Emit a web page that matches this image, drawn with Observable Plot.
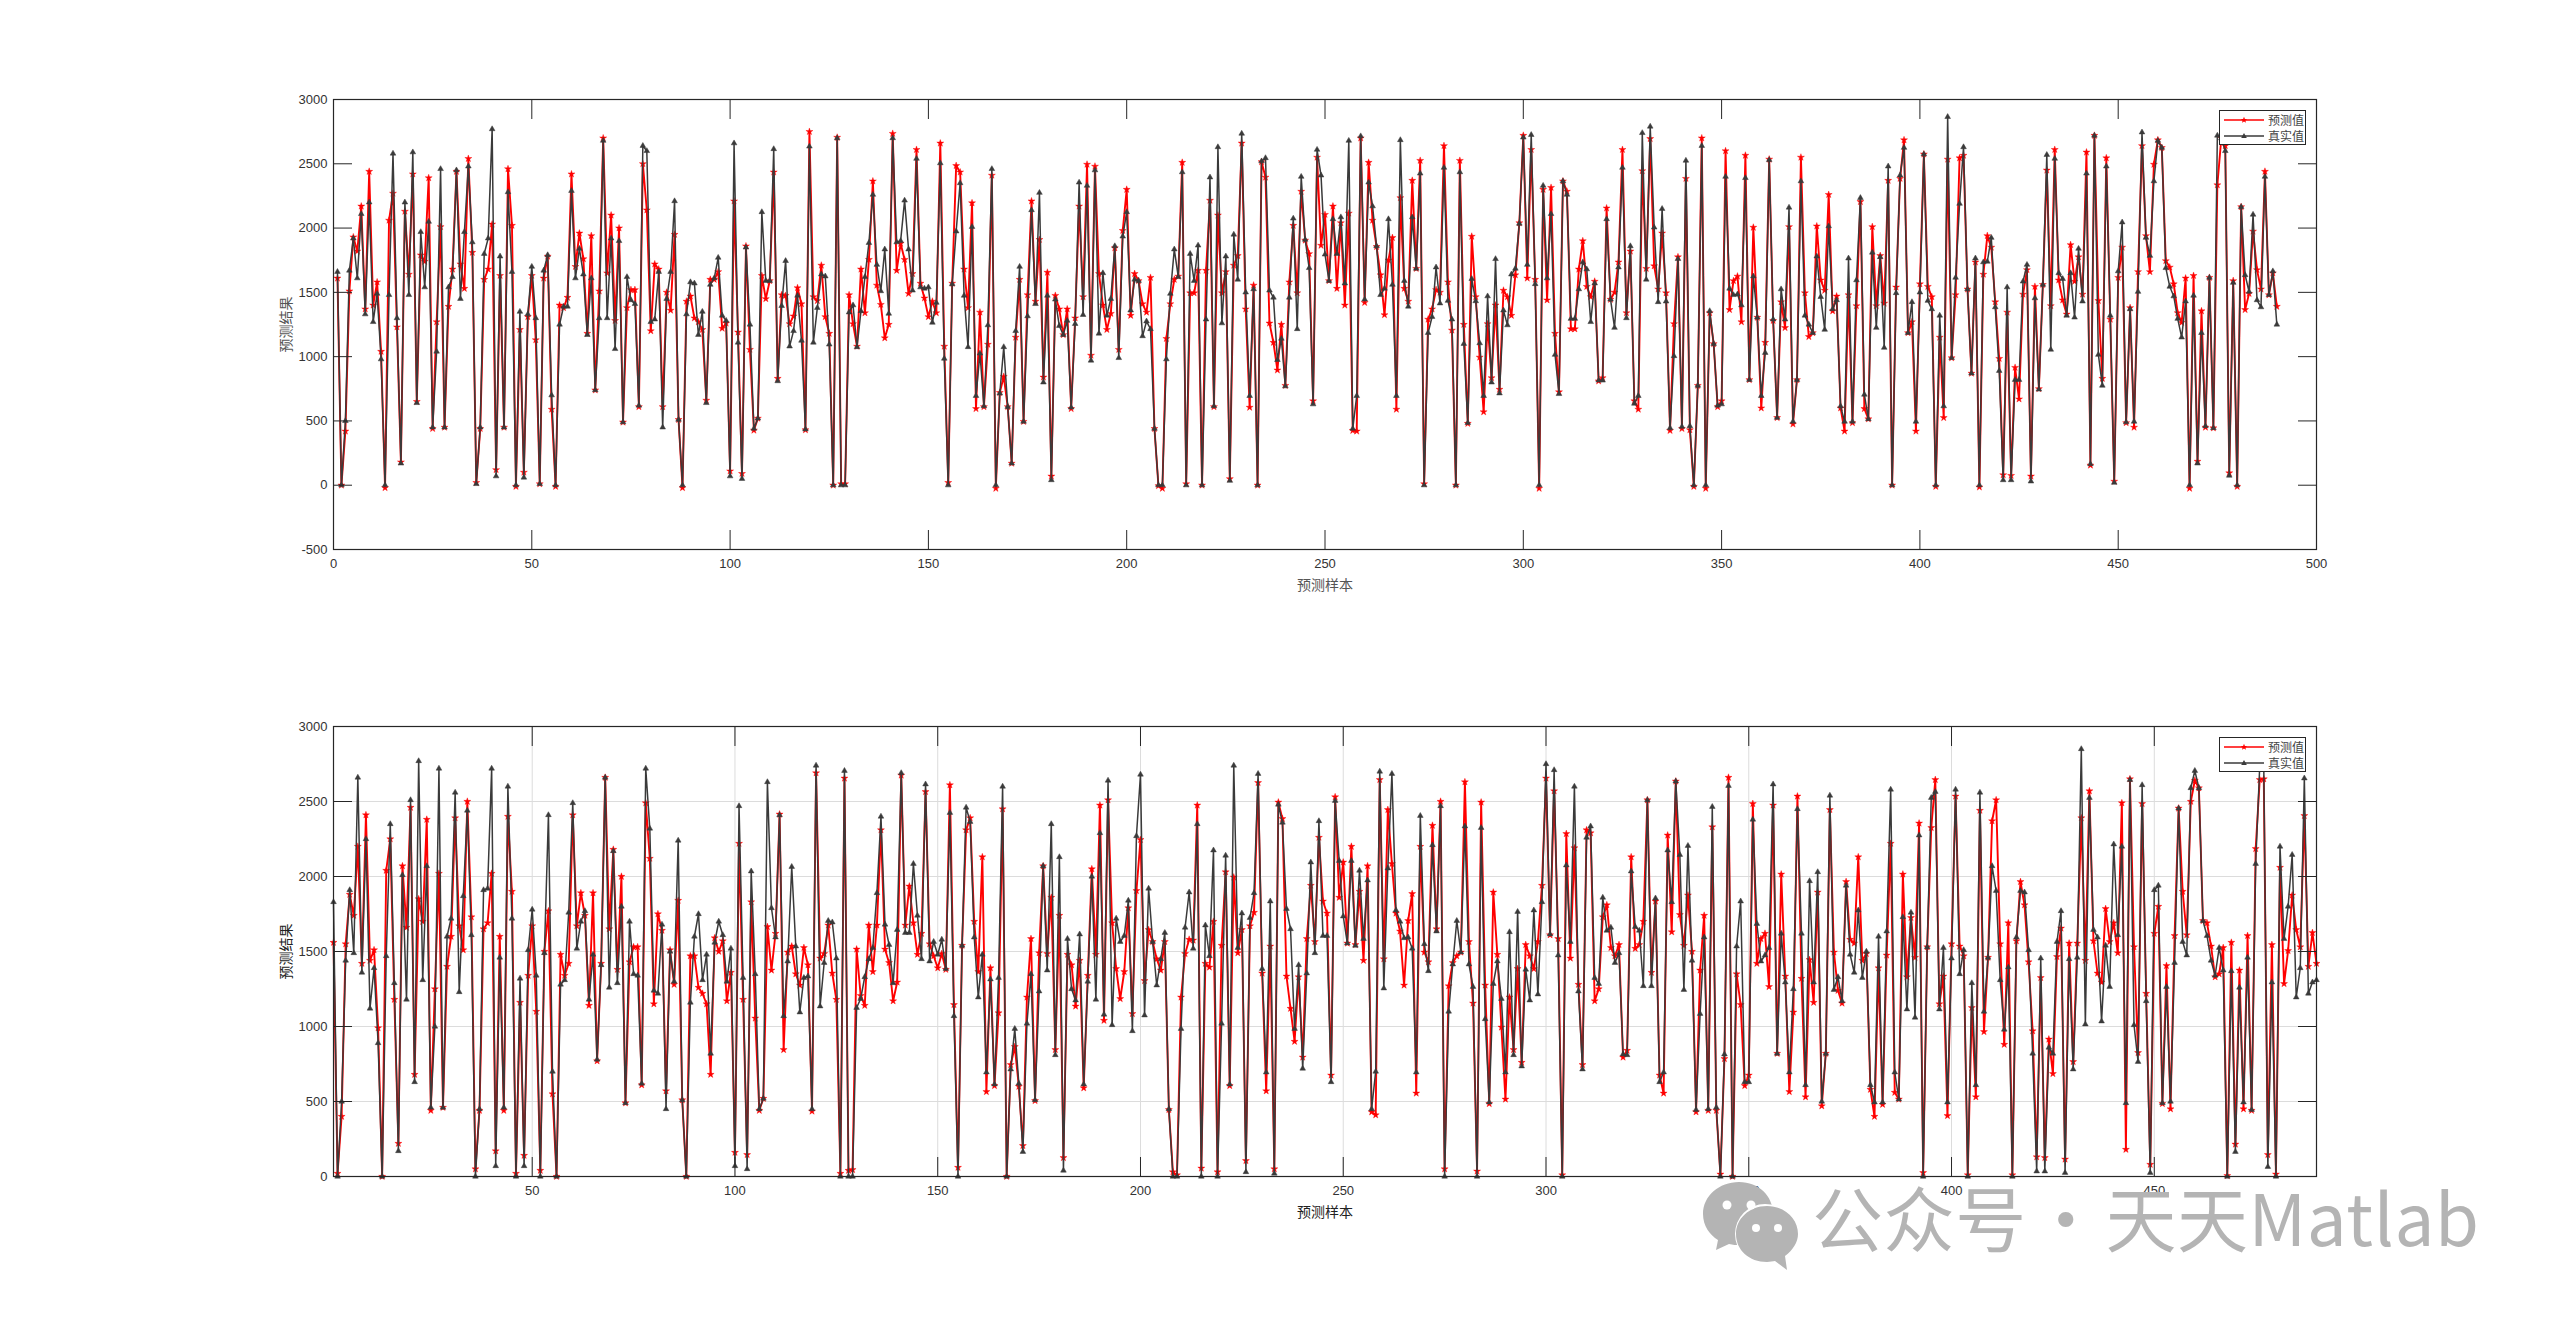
<!DOCTYPE html>
<html lang="zh"><head><meta charset="utf-8">
<script src="https://cdn.jsdelivr.net/npm/d3@7"></script>
<script src="https://cdn.jsdelivr.net/npm/@observablehq/plot@0.6"></script>
<style>
html,body{margin:0;background:#fff;overflow:hidden}
#page{position:relative;width:2560px;height:1322px;background:#fff;overflow:hidden}
.legend{position:absolute;background:#fff;border:1px solid #262626;box-sizing:border-box;width:87px;height:35px;font:12px "Noto Sans CJK SC",sans-serif;color:#444}
.legend svg{position:absolute;left:0;top:0}
.legend span{position:absolute;left:48px;line-height:16px;letter-spacing:0px;white-space:nowrap}
.wm{position:absolute;left:1812px;top:1168px;font:400 71px/94px "Noto Sans CJK SC",sans-serif;color:#b4b4b4;white-space:pre;word-spacing:-13px;letter-spacing:0.6px}
.icon{position:absolute;left:1703px;top:1182px}
</style></head><body><div id="page"></div>
<script>
const seriesPred="预测值", seriesTrue="真实值";
const xLabel="预测样本", yLabel="预测结果";
const topXTicks=[0,50,100,150,200,250,300,350,400,450,500];
const topYTicks=[-500,0,500,1000,1500,2000,2500,3000];
const botXTicks=[50,100,150,200,250,300,350,400,450];
const botYTicks=[0,500,1000,1500,2000,2500,3000];
const trueTop=[1660,0,500,1670,1920,1610,2110,1330,2200,1270,
1490,980,0,1480,2580,1300,170,2200,1480,2590,
640,1970,1540,2050,450,1040,2460,450,1540,1620,
2450,1450,1970,2480,1890,10,450,1800,1920,2770,
70,1780,450,2280,1660,0,1350,60,1330,1700,
1300,10,1670,1790,700,0,1250,1390,1390,2290,
1610,1840,1640,1170,1610,740,1300,2680,1300,1920,
1060,1900,490,1620,1440,1410,620,2640,2600,1270,
1290,1660,450,1450,1660,2210,510,0,1330,1580,
1570,1170,1350,640,1560,1610,1770,1320,1280,70,
2660,1110,50,1850,1250,440,520,2125,1590,1590,
2615,810,1395,1745,1080,1200,1475,1125,435,2635,
1110,1380,1640,1625,1095,0,2700,0,0,1345,
1400,1075,1355,1620,1885,2260,1715,1510,1835,1335,
2700,1890,1900,2215,1835,1515,2540,1540,1530,1540,
1265,1420,2505,985,0,1565,1975,2350,1475,1075,
2010,695,1025,615,1245,2460,0,715,1075,610,
170,1200,1700,495,1315,2140,1410,2275,800,1475,
40,1445,1240,1170,1280,605,1255,2355,1325,2330,
970,2450,1180,1650,1320,1450,1860,990,1935,2125,
1360,1600,1590,1160,1275,1215,440,0,0,980,
1490,1835,1620,2435,0,1800,1590,1865,0,1290,
2395,615,2630,1260,1780,35,1950,1600,2735,1500,
695,1525,0,2520,2545,1515,1460,975,1140,770,
1460,2075,1215,2400,1910,1690,630,2610,2410,1795,
1590,2070,1800,2085,1570,2680,440,695,2715,1445,
2355,2170,1860,1480,1530,2070,1560,695,2685,1590,
1390,2085,1685,2425,0,1185,1310,1695,1415,2470,
1435,1290,0,2435,1100,485,1605,1432,1105,695,
1470,800,1760,715,1360,1245,1640,1685,2035,2705,
1715,2725,1565,0,2330,1610,2110,1015,710,2365,
2260,1295,1295,1525,1735,1680,1270,1570,815,815,
2070,1445,1225,1695,2470,1300,1860,635,695,2740,
1600,2790,2005,1425,2150,1430,445,1005,1760,455,
2525,460,0,775,2640,0,1355,1100,620,630,
2400,1530,1480,1485,1400,2390,820,1625,1305,695,
1030,2530,1290,525,1525,1290,2160,495,820,2365,
1320,1250,1185,1780,1465,1210,2015,1370,1440,615,
495,1765,495,1595,2235,705,515,1810,1225,1775,
1070,2480,0,1495,2410,2625,1185,1425,495,1500,
2575,1435,1370,0,1320,615,2865,990,1615,2190,
2630,1525,870,1765,0,1735,1740,1925,1385,890,
40,1540,40,820,820,1585,1715,30,1455,745,
1560,2570,1055,2540,1650,1605,1320,1650,1305,1840,
1430,2425,165,2720,1015,775,2480,1320,20,1665,
2045,490,1370,495,1505,2745,1925,1785,2365,2680,
2625,1690,1545,1470,1295,1150,1430,0,1475,170,
1185,460,1615,445,2720,2700,2600,75,1575,0,
2165,1635,1505,2105,1440,1385,2400,1480,1665,1250];
const predTop=[1610,0,420,1510,1930,1820,2170,1370,2440,1400,
1580,1040,-20,2060,2270,1230,180,2130,1640,2420,
650,1790,1740,2390,440,1270,2010,450,1390,1680,
2440,1720,1530,2540,1810,20,440,1600,1680,2030,
120,1630,450,2460,2020,-10,1210,100,1310,1630,
1130,10,1610,1780,590,-10,1400,1380,1460,2420,
1700,1960,1760,1180,1940,740,1510,2700,1650,2100,
1280,2000,490,1380,1520,1520,610,2500,2140,1200,
1720,1680,610,1500,1360,1950,510,-20,1430,1470,
1300,1270,1210,660,1600,1600,1660,1220,1260,110,
2210,1190,90,1860,1055,427,520,1630,1450,1590,
2435,830,1480,1475,1255,1315,1535,1410,430,2750,
1465,1435,1710,1310,1180,0,2705,10,10,1480,
1255,1080,1680,1340,1755,2365,1555,1405,1145,1250,
2735,1670,1880,1755,1490,1645,2610,1570,1455,1310,
1430,1340,2660,1080,20,1570,2485,2435,1680,1380,
2195,595,1345,610,1095,2410,-25,720,845,610,
170,1150,1600,495,1480,2210,1430,1910,840,1655,
70,1475,1370,1170,1370,595,1300,2170,1465,2495,
1010,2480,1645,1400,1210,1335,1845,1055,1980,2300,
1320,1645,1590,1410,1345,1615,440,-5,-25,1140,
1410,1600,1625,2510,10,1495,1495,1670,0,1670,
2215,610,2100,1495,1660,50,1710,1785,2660,1370,
605,1555,0,2515,2395,1260,1110,895,1250,775,
1580,2020,1495,2285,1905,1800,655,2550,1865,2105,
1590,2170,1530,2040,1400,2115,425,420,2700,1420,
2510,2060,1855,1635,1325,1750,1925,590,2235,1530,
1430,2370,1685,2525,10,1290,1370,1520,1500,2640,
1580,1205,0,2525,1250,480,1935,1465,995,570,
1255,835,1400,745,1515,1465,1320,1635,2040,2720,
1610,2610,1600,-25,2300,1440,2315,1180,725,2365,
2285,1215,1215,1680,1900,1545,1465,1585,810,835,
2155,1445,1500,1735,2610,1340,1820,655,590,2445,
1685,2695,1705,1525,1960,1495,425,1255,1775,440,
2385,430,-10,775,2700,-25,1340,1100,610,655,
2600,1365,1590,1625,1270,2565,820,2005,1305,600,
1110,2535,1280,525,1425,1225,2010,475,820,2550,
1495,1155,1185,2015,1595,1515,2260,1355,1470,600,
420,1480,485,1395,2205,595,515,2010,1395,1785,
1415,2370,0,1540,2385,2685,1185,1270,420,1565,
2575,1545,1465,-10,1150,525,2535,990,1480,2545,
2565,1525,870,1735,-15,1640,1940,1850,1425,985,
80,1345,75,915,670,1485,1675,70,1545,750,
1560,2450,1395,2610,1595,1440,1330,1870,1585,1775,
1485,2590,155,2720,1435,830,2545,1290,30,1615,
1850,485,1380,450,1660,2640,1940,1660,2495,2685,
2625,1745,1695,1565,1340,1265,1610,-25,1630,185,
1355,450,1615,445,2335,2700,2640,95,1590,-10,
2165,1365,1490,1975,1675,1525,2440,1480,1650,1390];
const trueBottom=[1830,0,500,1440,1910,1490,2660,1360,2250,1120,
1390,890,0,1470,2350,1290,170,2010,1180,2510,
630,2770,1310,2070,460,1000,2720,460,1600,1720,
2560,1230,1870,2440,1610,0,450,1910,1920,2720,
70,1460,460,2600,1720,0,1320,70,1510,1780,
1340,0,1490,2410,700,0,1280,1310,1760,2490,
1520,1700,1770,1180,1480,780,1410,2660,1260,2170,
1290,1800,490,1700,1350,1340,620,2720,2320,1240,
1220,1680,450,1500,1300,2240,510,0,1160,1600,
1750,1310,1480,820,1560,1700,1610,1300,1520,70,
2470,1325,50,2035,1350,450,520,2630,1790,1595,
2410,1070,1435,2065,1535,1095,1325,1335,450,2740,
1135,1425,1705,1695,1455,0,2705,0,0,1125,
1185,1330,1450,1525,1890,2400,1680,1545,1290,1645,
2690,1625,1625,2085,1740,1450,2615,1435,1565,1480,
1580,1385,2425,1070,0,1540,2460,2365,1595,1195,
1480,695,1315,615,1325,2600,0,715,985,620,
165,1020,1350,510,1235,2070,1375,2350,810,2130,
40,1585,1250,1175,1615,615,1300,2000,1180,2290,
1080,2640,1010,1720,1565,1605,1840,970,2270,2680,
1075,1920,1565,1275,1450,1625,450,0,0,985,
1660,1895,1520,2350,0,1675,1470,2175,0,1020,
2140,615,2740,1525,1755,30,1725,1890,2685,1385,
695,1835,20,2480,2360,1785,1650,985,1410,720,
1355,2095,1490,2370,1605,1605,630,2505,2105,1735,
1555,2105,1540,2040,1585,1975,450,700,2700,1255,
2055,2685,1775,1700,1590,1595,1520,695,2405,1550,
1370,2210,1635,2470,0,1100,1415,1705,1495,2335,
1415,1265,0,2325,1050,495,1285,1435,1185,695,
1630,810,1765,735,1380,1175,1775,1215,1830,2750,
1615,2710,1475,0,2075,1565,2600,1235,715,2260,
2335,1325,1285,1860,1640,1660,1425,1490,815,810,
2035,1665,1640,1270,2510,1270,1855,630,695,2175,
1830,2635,2145,1245,2205,1440,445,1085,1595,450,
2465,460,0,815,2605,0,1535,1835,630,630,
2380,1685,1435,1475,1525,2615,820,1620,1295,695,
1250,2450,1620,610,1970,1295,2030,500,820,2540,
1245,1330,1170,1940,1480,1360,1775,1325,1500,610,
495,1600,495,1635,2580,695,515,1730,1115,1760,
1060,2275,0,1530,2525,2565,1115,1525,495,1455,
2580,1350,1510,0,1290,610,2560,1100,1460,2070,
1905,1310,980,1395,0,1595,1905,1895,1510,820,
35,1455,35,860,820,1565,1770,25,1450,715,
1460,2850,1015,2525,1645,1595,1035,1540,1265,2215,
1610,2200,490,2645,1010,765,2610,1170,25,1910,
1940,490,1265,500,1425,2455,1565,1475,2590,2705,
2590,1705,1605,1440,1340,1525,1375,0,1370,165,
1260,495,1460,445,2085,2735,2735,65,1295,0,
2200,1585,1800,2145,1195,1390,2655,1220,1295,1310];
const predBottom=[1560,20,400,1550,1880,1740,2200,1420,2410,1440,
1510,990,0,2040,2250,1180,220,2070,1660,2460,
680,1850,1700,2380,440,1250,2020,460,1400,1600,
2390,1670,1510,2500,1730,50,440,1650,1690,2020,
170,1600,440,2400,1900,20,1160,140,1340,1670,
1100,40,1500,1770,550,0,1480,1340,1420,2410,
1670,1890,1740,1140,1890,770,1420,2660,1650,2180,
1380,2000,490,1430,1530,1530,610,2490,2120,1150,
1750,1640,570,1510,1280,1840,510,0,1470,1470,
1260,1220,1150,680,1590,1500,1570,1170,1360,160,
2220,1180,145,1830,1055,440,520,1665,1375,1620,
2415,845,1495,1535,1350,1275,1525,1410,435,2690,
1455,1485,1675,1355,1180,20,2655,40,45,1515,
1205,1140,1675,1365,1675,2310,1515,1425,1170,1295,
2675,1675,1935,1690,1480,1620,2565,1550,1470,1390,
1485,1380,2610,1145,60,1540,2310,2390,1700,1365,
2130,565,1390,605,1090,2450,0,745,865,600,
205,1195,1585,505,1490,2070,1485,1860,845,1740,
125,1480,1410,1135,1440,590,1340,2050,1480,2475,
1040,2510,1690,1385,1185,1365,1790,1085,1905,2245,
1305,1645,1565,1450,1375,1565,445,30,10,1195,
1485,1580,1575,2475,55,1420,1395,1700,30,1540,
2030,605,1995,1490,1645,105,1670,1760,2625,1355,
570,1535,50,2495,2385,1335,1120,900,1330,795,
1585,1940,1565,2260,1835,1755,675,2530,1860,2095,
1555,2200,1545,1900,1440,2070,430,410,2645,1450,
2445,2085,1755,1635,1275,1705,1885,555,2200,1495,
1430,2340,1650,2500,50,1270,1425,1470,1495,2630,
1565,1155,35,2495,1275,485,1895,1480,995,515,
1195,845,1385,760,1545,1470,1385,1565,1940,2655,
1610,2570,1585,10,2285,1455,2190,1280,745,2310,
2290,1170,1250,1730,1810,1525,1470,1545,795,840,
2130,1520,1545,1700,2510,1360,1835,675,555,2275,
1630,2635,1745,1540,1875,1500,430,1375,1740,440,
2330,440,15,785,2660,0,1350,1145,605,675,
2485,1420,1585,1620,1265,2475,820,2015,1335,565,
1095,2535,1320,530,1445,1160,1895,470,820,2445,
1495,1240,1155,1965,1580,1555,2130,1440,1485,580,
400,1390,480,1475,2220,560,515,2015,1330,1725,
1460,2355,25,1530,2325,2645,1150,1335,405,1550,
2535,1535,1470,10,1125,530,2440,965,1460,2370,
2510,1550,880,1690,10,1570,1965,1810,1430,970,
130,1325,125,915,685,1465,1655,115,1555,765,
1555,2390,1440,2570,1570,1355,1295,1785,1565,1690,
1490,2490,180,2650,1530,825,2485,1220,80,1620,
1800,485,1405,450,1605,2455,1900,1610,2500,2640,
2590,1705,1690,1535,1330,1350,1525,5,1560,215,
1375,450,1605,440,2185,2645,2650,145,1545,15,
2060,1285,1505,1875,1645,1530,2405,1400,1625,1420];

const RED="#ff0000", DARK="#3a3a3a", INK="#262626";
const FONT="'Liberation Sans','Noto Sans CJK SC',sans-serif";

function panel({pred,truth,xTicks,yTicks,xDomain,yDomain,height,mt,mb,grid,labelFill}){
  const xs=pred.map((_,i)=>i+1);
  const tickOnly=(axis,anchor,ticks)=>axis({anchor,ticks,tickSize:-19,fill:"none",stroke:INK,strokeOpacity:1,label:null});
  return Plot.plot({
    width:2560,height,marginLeft:333,marginRight:244,marginTop:mt,marginBottom:mb,
    style:{fontFamily:FONT,fontSize:"13px",background:"transparent",overflow:"visible",maxWidth:"none"},
    x:{domain:xDomain},y:{domain:yDomain},
    marks:[
      ...(grid?[Plot.gridX(xTicks,{stroke:"#dcdcdc",strokeOpacity:1}),Plot.gridY(yTicks,{stroke:"#dcdcdc",strokeOpacity:1})]:[]),
      Plot.line(xs,{x:d=>d,y:d=>pred[d-1],stroke:RED,strokeWidth:1.9}),
      Plot.dot(xs,{x:d=>d,y:d=>pred[d-1],symbol:"star",r:2.2,fill:RED,stroke:RED,strokeWidth:0.4}),
      Plot.line(xs,{x:d=>d,y:d=>truth[d-1],stroke:DARK,strokeWidth:1.5}),
      Plot.dot(xs,{x:d=>d,y:d=>truth[d-1],symbol:"triangle",r:2.1,fill:DARK,stroke:DARK,strokeWidth:0.5}),
      Plot.axisX({anchor:"bottom",ticks:xTicks,tickSize:0,tickPadding:9,fill:"#333",fontSize:13,label:null,tickFormat:d=>String(d)}),
      Plot.axisY({anchor:"left",ticks:yTicks,tickSize:0,tickPadding:6,fill:"#333",fontSize:13,label:null,tickFormat:d=>String(d)}),
      tickOnly(Plot.axisX,"bottom",xTicks),
      tickOnly(Plot.axisX,"top",xTicks),
      tickOnly(Plot.axisY,"left",yTicks),
      tickOnly(Plot.axisY,"right",yTicks),
      Plot.frame({stroke:INK,strokeWidth:1.2}),
      Plot.axisX({anchor:"bottom",ticks:[],tickSize:0,label:xLabel,labelAnchor:"center",labelArrow:"none",labelOffset:40,fontSize:14,fill:labelFill}),
      Plot.axisY({anchor:"left",ticks:[],tickSize:0,label:yLabel,labelAnchor:"center",labelArrow:"none",labelOffset:52,fontSize:14,fill:labelFill})
    ]
  });
}
const page=document.getElementById("page");
function place(svg,top){svg.style.position="absolute";svg.style.left="0";svg.style.top=top+"px";page.appendChild(svg);}
place(panel({pred:predTop,truth:trueTop,xTicks:topXTicks,yTicks:topYTicks,xDomain:[0,500],yDomain:[-500,3000],height:640,mt:99,mb:91,grid:false,labelFill:"#555"}),0);
place(panel({pred:predBottom,truth:trueBottom,xTicks:botXTicks,yTicks:botYTicks,xDomain:[1,490],yDomain:[0,3000],height:640,mt:86,mb:104,grid:true,labelFill:"#222"}),640);

function legend(left,top){
  const d=document.createElement("div");d.className="legend";d.style.left=left+"px";d.style.top=top+"px";
  d.innerHTML=`<svg width="85" height="33">
  <line x1="4" x2="44" y1="9" y2="9" stroke="${RED}" stroke-width="1.5"/><path transform="translate(24,9)" d="M0,-3.2L.9,-1H3.2L1.4,.4L2,2.8L0,1.4L-2,2.8L-1.4,.4L-3.2,-1H-.9Z" fill="${RED}"/>
  <line x1="4" x2="44" y1="25" y2="25" stroke="${DARK}" stroke-width="1.3"/><path transform="translate(24,25)" d="M0,-3L2.8,2H-2.8Z" fill="${DARK}"/></svg>
  <span style="top:1px">${seriesPred}</span><span style="top:17px">${seriesTrue}</span>`;
  page.appendChild(d);
}
legend(2219,110);legend(2219,737);

const ic=document.createElementNS("http://www.w3.org/2000/svg","svg");
ic.setAttribute("class","icon");ic.setAttribute("width","104");ic.setAttribute("height","90");
ic.innerHTML=`<path d="M36,0C16,0 0,14 0,32C0,44 7,53 15,58L13,68L26,62C30,63 33,63 36,63C56,63 70,50 70,32C70,14 56,0 36,0Z" fill="#b4b4b4"/>
<ellipse cx="62" cy="52" rx="30" ry="30" fill="#fff"/>
<path d="M64,24C46,24 33,37 33,52C33,68 46,80 64,80C67,80 70,79 72,79L84,88L82,74C90,68 95,60 95,52C95,37 82,24 64,24Z" fill="#b4b4b4"/>
<circle cx="24" cy="23" r="4.5" fill="#fff"/><circle cx="48" cy="23" r="4.5" fill="#fff"/><circle cx="53" cy="46" r="4" fill="#fff"/><circle cx="75" cy="46" r="4" fill="#fff"/>`;
page.appendChild(ic);
const wm=document.createElement("div");wm.className="wm";wm.textContent="公众号 · 天天Matlab";page.appendChild(wm);
</script></body></html>
